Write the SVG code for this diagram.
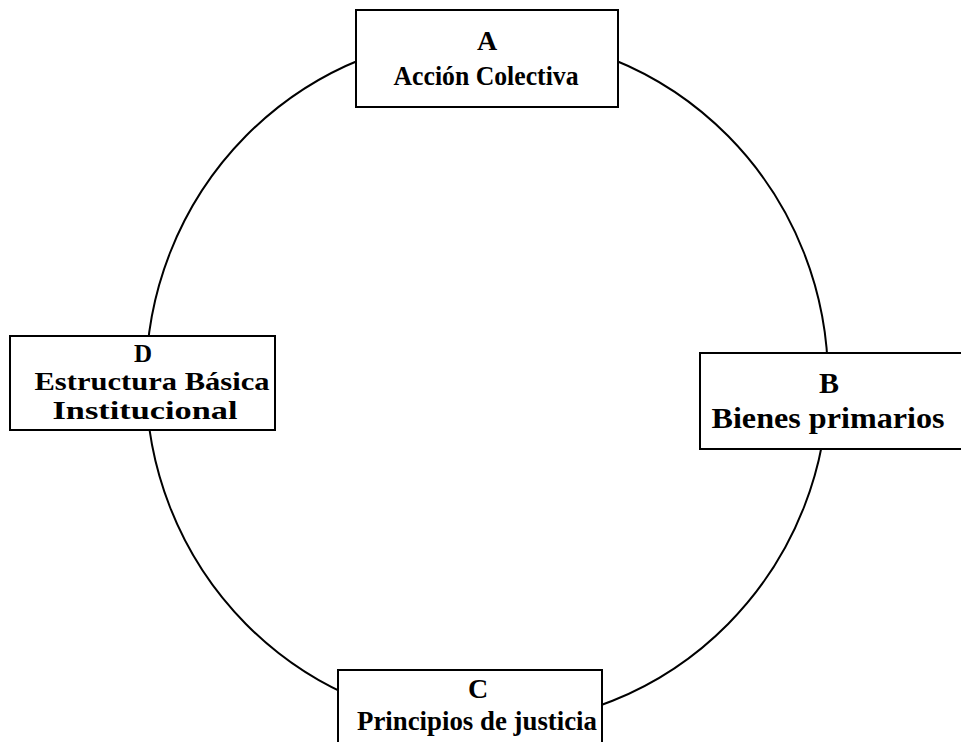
<svg xmlns="http://www.w3.org/2000/svg" width="961" height="742" viewBox="0 0 961 742">
<style>
.box{fill:#fff;stroke:#000;stroke-width:2}
.t{font-family:"Liberation Serif","Times New Roman",serif;font-weight:bold;fill:#000;text-anchor:middle}
</style>
<rect width="961" height="742" fill="#fff"/>
<g id="connectors">
<ellipse cx="487" cy="380" rx="341" ry="345" fill="none" stroke="#000" stroke-width="2"/>
</g>
<g id="A">
<rect class="box" x="356" y="10" width="262" height="97"/>
<text class="t" x="487" y="50" font-size="28">A</text>
<text class="t" x="486" y="85" font-size="28" textLength="185" lengthAdjust="spacingAndGlyphs">Acción Colectiva</text>
</g>
<g id="B">
<rect class="box" x="700" y="353" width="262" height="96"/>
<text class="t" x="829" y="393" font-size="30">B</text>
<text class="t" x="828" y="428" font-size="30" textLength="233" lengthAdjust="spacingAndGlyphs">Bienes primarios</text>
</g>
<g id="C">
<rect class="box" x="338" y="670" width="264" height="80"/>
<text class="t" x="478" y="698" font-size="28">C</text>
<text class="t" x="477" y="730" font-size="28" textLength="240" lengthAdjust="spacingAndGlyphs">Principios de justicia</text>
</g>
<g id="D">
<rect class="box" x="10" y="336" width="265" height="94"/>
<text class="t" x="143" y="362" font-size="25">D</text>
<text class="t" x="152" y="390" font-size="25" textLength="235" lengthAdjust="spacingAndGlyphs">Estructura Básica</text>
<text class="t" x="145" y="419" font-size="25" textLength="185" lengthAdjust="spacingAndGlyphs">Institucional</text>
</g>
</svg>
